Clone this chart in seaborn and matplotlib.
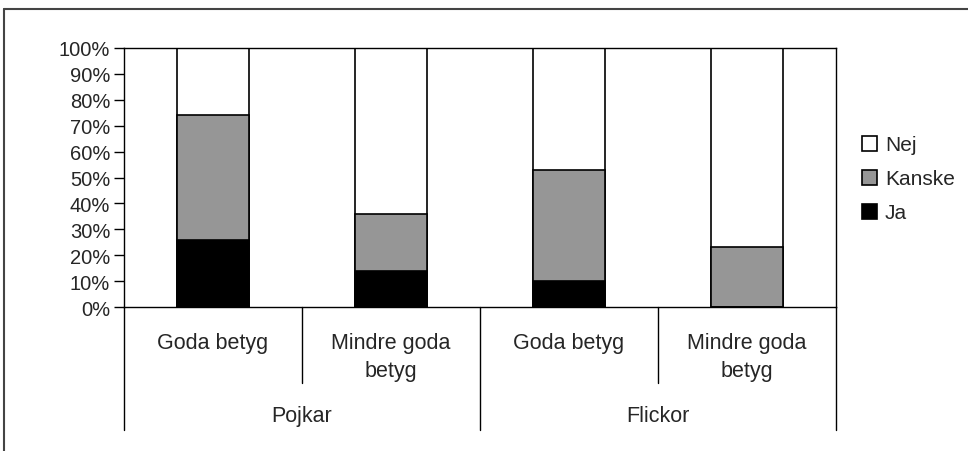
import pandas as pd
import matplotlib.pyplot as plt
import seaborn as sns
from matplotlib.patches import Patch
from matplotlib.lines import Line2D

# data (percent of answers)
groups = ["Pojkar", "Flickor"]
grades = ["Goda betyg", "Mindre goda\nbetyg", "Goda betyg", "Mindre goda\nbetyg"]
ja = [26, 14, 10, 0]
kanske = [48, 22, 43, 23]
nej = [26, 64, 47, 77]

series_colors = {"Ja": "#000000", "Kanske": "#969696", "Nej": "#ffffff"}

sns.set_style("white")
plt.rcParams["font.family"] = ["Liberation Sans", "DejaVu Sans"]

df = pd.DataFrame({"pos": range(len(grades)), "Ja": ja, "Kanske": kanske, "Nej": nej})
df["Ja_top"] = df["Ja"]
df["Kanske_top"] = df["Ja"] + df["Kanske"]
df["Nej_top"] = df["Kanske_top"] + df["Nej"]

fig = plt.figure(figsize=(9.68, 4.52), dpi=100)
ax = fig.add_axes([124 / 968, (452 - 308) / 452, 712 / 968, 259 / 452])

# draw from the tallest stack down so each layer sits on top of the previous
for name in ["Nej", "Kanske", "Ja"]:
    sns.barplot(data=df, x="pos", y=name + "_top", color=series_colors[name],
                edgecolor="black", linewidth=1.2, width=0.405, saturation=1,
                native_scale=True, ax=ax, zorder=2)

ax.set_xlim(-0.5, len(grades) - 0.5)
ax.set_ylim(0, 100)
ax.set_yticks(range(0, 101, 10))
ax.set_yticklabels([f"{v}%" for v in range(0, 101, 10)], fontsize=14.5)
ax.set_xticks([])
ax.set_xlabel("")
ax.set_ylabel("")
ax.tick_params(axis="y", direction="out", length=7, width=1, color="black", pad=3, left=True)
for sp in ax.spines.values():
    sp.set_visible(True)
    sp.set_color("black")
    sp.set_linewidth(1)

# two-level category axis below the plot
trans = ax.get_xaxis_transform()
for i, lab in enumerate(grades):
    ax.text(i, -0.097, lab, transform=trans, ha="center", va="top",
            fontsize=15.5, linespacing=1.45)
for b in [0.5, 2.5]:
    ax.add_line(Line2D([b, b], [0, -0.293], transform=trans, color="black", lw=1, clip_on=False))
for b in [-0.5, 1.5, 3.5]:
    ax.add_line(Line2D([b, b], [0, -0.475], transform=trans, color="black", lw=1, clip_on=False))
for g, name in enumerate(groups):
    ax.text(2 * g + 0.5, -0.42, name, transform=trans, ha="center", va="center", fontsize=15.5)

handles = [Patch(facecolor=series_colors[n], edgecolor="black", linewidth=1.2) for n in ["Nej", "Kanske", "Ja"]]
fig.legend(handles, ["Nej", "Kanske", "Ja"], loc="center left",
           bbox_to_anchor=(862 / 968, (452 - 180) / 452), frameon=False, fontsize=15,
           handlelength=0.7, handleheight=0.7, handletextpad=0.4, labelspacing=0.72,
           borderpad=0, borderaxespad=0)

# outer chart-area border (top and left visible in the crop)
fig.add_artist(Line2D([4 / 968, 4 / 968], [0, 1 - 10 / 452], transform=fig.transFigure, color="#444444", lw=1.5))
fig.add_artist(Line2D([4 / 968, 1], [1 - 10 / 452, 1 - 10 / 452], transform=fig.transFigure, color="#444444", lw=1.5))

fig.savefig("out.png", dpi=100, facecolor="white")
